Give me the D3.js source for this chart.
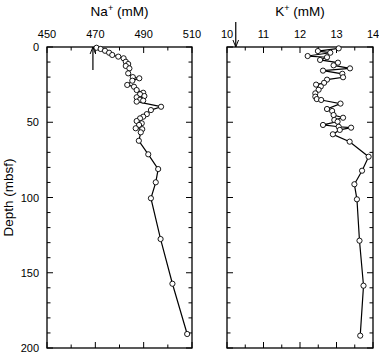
<!DOCTYPE html>
<html><head><meta charset="utf-8">
<script src="https://cdn.jsdelivr.net/npm/d3@7"></script>
<style>body{margin:0;background:#fff}svg{display:block}text{font-family:"Liberation Sans",Arial,Helvetica,sans-serif;fill:#000}</style>
</head><body>
<script>
const naDepth = [0.5,1.3,2.5,3.8,5.3,6.4,7.5,9.8,11.3,12.6,14.2,17.5,20.0,20.8,22.4,25.2,26.4,28.6,30.4,31.4,32.6,33.4,35.0,35.6,36.3,39.7,41.9,44.6,46.3,47.4,49.2,50.7,51.8,54.0,54.6,56.7,62.3,71.3,81.1,89.9,100.5,127.6,157.3,190.7];
const naValue = [470.5,472.2,474.0,475.7,477.0,479.5,481.7,482.6,483.6,482.6,484.1,483.6,485.5,488.2,485.3,483.2,486.0,487.1,489.8,488.5,490.3,487.1,488.5,489.8,487.1,497.2,493.0,491.3,489.8,488.5,487.1,489.2,488.1,486.7,489.4,488.8,488.0,491.9,496.0,495.0,493.0,497.0,501.9,508.0];
const kDepth = [0.9,2.7,3.8,6.0,6.8,8.6,10.4,12.2,14.2,15.7,17.8,20.1,21.7,23.8,25.0,26.2,28.4,30.8,33.0,34.6,35.2,37.6,41.2,42.5,45.2,47.0,48.5,49.6,51.8,53.0,53.6,55.1,58.0,62.9,72.9,82.2,91.2,101.2,128.7,158.6,191.8];
const kValue = [13.06,12.49,12.83,12.21,12.74,12.55,13.04,12.92,13.37,12.63,13.16,13.18,12.74,12.66,12.44,12.57,12.51,12.42,12.42,12.46,12.58,13.11,12.74,12.88,12.92,13.18,12.94,13.03,12.63,13.06,13.40,13.09,12.90,13.36,13.88,13.70,13.49,13.56,13.63,13.74,13.65];
const naTicks = [450,470,490,510];
const kTicks = [10,11,12,13,14];
const depthTicks = [0,50,100,150,200];
const naArrow = 469;
const kArrow = 10.24;

const W=379,H=358;
const svg=d3.select("body").append("svg").attr("width",W).attr("height",H);
const yTop=47,yBot=348;
const y=d3.scaleLinear().domain([0,200]).range([yTop,yBot]);
const xNa=d3.scaleLinear().domain([450,510]).range([47,192]);
const xK=d3.scaleLinear().domain([10,14]).range([227,373]);

svg.append("defs").append("marker").attr("id","ah").attr("viewBox","0 0 10 10")
 .attr("refX",10).attr("refY",5).attr("markerWidth",7).attr("markerHeight",7)
 .attr("markerUnits","userSpaceOnUse").attr("orient","auto")
 .append("path").attr("d","M0,1 L10,5 L0,9").attr("fill","none").attr("stroke","#000").attr("stroke-width",1.4);

function panel(x,title,labTicks,minorStep,depths,vals,showY,arrowVal,arrowUp){
  const g=svg.append("g");
  const [x0,x1]=x.range();
  g.append("rect").attr("x",x0).attr("y",yTop).attr("width",x1-x0).attr("height",yBot-yTop)
    .attr("fill","none").attr("stroke","#000").attr("stroke-width",1.3);
  const d=x.domain();
  const minors=d3.range(d[0],d[1]+1e-9,minorStep);
  minors.forEach(v=>{
    const major=labTicks.some(t=>Math.abs(t-v)<1e-9);
    const L=major?6:3.5;
    [[yTop,1],[yBot,-1]].forEach(([yy,s])=>{
      g.append("line").attr("x1",x(v)).attr("x2",x(v)).attr("y1",yy).attr("y2",yy+s*L).attr("stroke","#000").attr("stroke-width",1);
    });
  });
  labTicks.forEach(v=>{
    g.append("text").attr("x",x(v)).attr("y",37.5).attr("text-anchor","middle").attr("font-size",11).text(v);
  });
  d3.range(0,200.001,10).forEach(v=>{
    const major=v%50===0;
    const L=major?6:3.5;
    g.append("line").attr("x1",x0).attr("x2",x0+L).attr("y1",y(v)).attr("y2",y(v)).attr("stroke","#000");
    g.append("line").attr("x1",x1).attr("x2",x1-L).attr("y1",y(v)).attr("y2",y(v)).attr("stroke","#000");
  });
  if(showY){
    depthTicks.forEach(v=>{
      g.append("text").attr("x",x0-8).attr("y",y(v)+4).attr("text-anchor","end").attr("font-size",11).text(v);
    });
  }
  const t=g.append("text").attr("x",(x0+x1)/2).attr("y",16).attr("text-anchor","middle").attr("font-size",13.5);
  t.append("tspan").text(title);
  t.append("tspan").attr("font-size",9).attr("dy",-5).text("+");
  t.append("tspan").attr("dy",5).text(" (mM)");
  const pts=depths.map((dd,i)=>[x(vals[i]),y(dd)]);
  g.append("path").attr("d",d3.line()(pts)).attr("fill","none").attr("stroke","#000").attr("stroke-width",1.2);
  g.selectAll("circle.p").data(pts).enter().append("circle").attr("cx",p=>p[0]).attr("cy",p=>p[1]).attr("r",2.6)
    .attr("fill","#fff").attr("stroke","#000").attr("stroke-width",0.9);
  const ax=x(arrowVal);
  if(arrowUp){
    g.append("line").attr("x1",ax).attr("x2",ax).attr("y1",70).attr("y2",yTop).attr("stroke","#000").attr("stroke-width",1.2).attr("marker-end","url(#ah)");
  } else {
    g.append("line").attr("x1",ax).attr("x2",ax).attr("y1",22).attr("y2",yTop).attr("stroke","#000").attr("stroke-width",1.2).attr("marker-end","url(#ah)");
  }
}
panel(xNa,"Na",naTicks,10,naDepth,naValue,true,naArrow,true);
panel(xK,"K",kTicks,0.5,kDepth,kValue,false,kArrow,false);

svg.append("text").attr("transform","translate(13,"+((yTop+yBot)/2)+") rotate(-90)")
  .attr("text-anchor","middle").attr("font-size",13.5).text("Depth (mbsf)");
</script>
</body></html>
